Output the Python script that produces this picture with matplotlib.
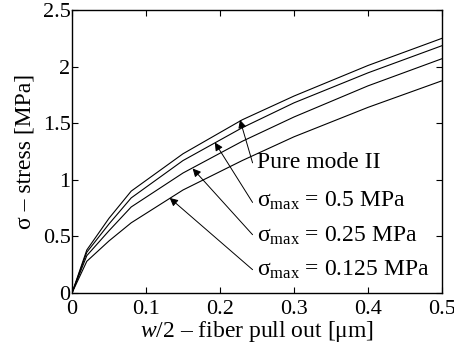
import matplotlib
matplotlib.use('Agg')
import matplotlib.pyplot as plt
from matplotlib.ticker import FormatStrFormatter

plt.rcParams['font.family'] = ['Liberation Serif', 'DejaVu Serif']
plt.rcParams['mathtext.fontset'] = 'custom'
plt.rcParams['mathtext.rm'] = 'Liberation Serif'
plt.rcParams['mathtext.it'] = 'Liberation Serif:italic'

# crack opening / pull out [um]
x = [0, 0.02, 0.05, 0.08, 0.15, 0.23, 0.3, 0.4, 0.5]
# stress curves [MPa]
pure_mode2 = [0, 0.38, 0.66, 0.90, 1.23, 1.53, 1.74, 2.01, 2.25]
smax_05 = [0, 0.36, 0.61, 0.84, 1.17, 1.46, 1.68, 1.945, 2.185]
smax_025 = [0, 0.33, 0.55, 0.76, 1.06, 1.34, 1.555, 1.83, 2.07]
smax_0125 = [0, 0.28, 0.46, 0.62, 0.91, 1.17, 1.38, 1.64, 1.875]

labels = ['Pure mode II',
          r'$\mathrm{\sigma}_{\mathrm{max}}$ = 0.5 MPa',
          r'$\mathrm{\sigma}_{\mathrm{max}}$ = 0.25 MPa',
          r'$\mathrm{\sigma}_{\mathrm{max}}$ = 0.125 MPa']
# arrow tips sit on the curves, tails next to the labels
tips = [(0.227, 1.53), (0.193, 1.33), (0.163, 1.10), (0.132, 0.84)]
tails = [(0.244, 1.15), (0.244, 0.80), (0.244, 0.515), (0.244, 0.206)]
text_pos = [(0.2496, 1.104), (0.2496, 0.765), (0.2496, 0.456), (0.2496, 0.153)]

fig = plt.figure(figsize=(4.54, 3.49), dpi=100)
ax = fig.add_axes([0.1586, 0.1605, 0.815, 0.8108])

for y in [pure_mode2, smax_05, smax_025, smax_0125]:
    ax.plot(x, y, color='k', lw=0.8)

for lab, tip, tail, tp in zip(labels, tips, tails, text_pos):
    ax.annotate('', xy=tip, xytext=tail,
                arrowprops=dict(arrowstyle='-|>', color='k', lw=0.7,
                                mutation_scale=12, shrinkA=0, shrinkB=0))
    ax.text(tp[0], tp[1], lab, fontsize=17, va='baseline', ha='left')

ax.set_xlim(0, 0.5)
ax.set_ylim(0, 2.5)
ax.set_xticks([0, 0.1, 0.2, 0.3, 0.4, 0.5])
ax.set_yticks([0, 0.5, 1, 1.5, 2, 2.5])
ax.xaxis.set_major_formatter(FormatStrFormatter('%g'))
ax.yaxis.set_major_formatter(FormatStrFormatter('%g'))
ax.tick_params(direction='in', top=True, right=True, length=4, width=0.8,
               labelsize=16, pad=1)
ax.tick_params(axis='x', pad=5)
for s in ax.spines.values():
    s.set_linewidth(1.0)

ax.set_xlabel(r'$w$/2 – fiber pull out [μm]', fontsize=17, labelpad=0)
ax.set_ylabel('σ – stress [MPa]', fontsize=17, labelpad=5)

fig.savefig('out.png', dpi=100)
